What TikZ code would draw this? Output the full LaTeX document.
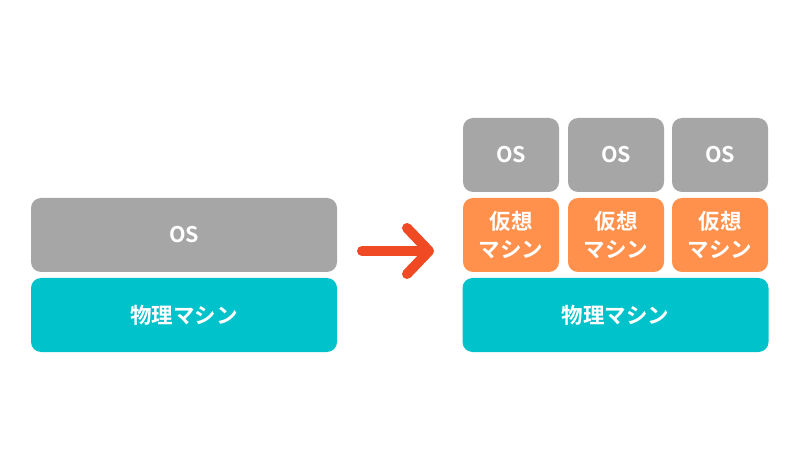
\documentclass[tikz,border=0pt]{standalone}
\usepackage{fontspec}
\setmainfont{Noto Sans CJK JP}[BoldFont={* Bold}]
\usetikzlibrary{arrows.meta}
\definecolor{osgray}{HTML}{A6A6A6}
\definecolor{hwteal}{HTML}{00C2CB}
\definecolor{vmorange}{HTML}{FF914D}
\definecolor{arrowred}{HTML}{EF4A23}
\tikzset{
  layer/.style={rounded corners=10pt, text=white, align=center,
    font=\fontsize{21.5}{28}\selectfont\bfseries, inner sep=0pt},
  wide/.style={layer, minimum width=306pt, minimum height=74pt},
  small/.style={layer, minimum width=96pt, minimum height=74pt},
}
\begin{document}
\begin{tikzpicture}[x=1pt,y=-1pt]
\useasboundingbox[fill=white] (0,0) rectangle (800,470);

% before
\node[wide, fill=osgray] (os) at (184,235) {OS};
\node[wide, fill=hwteal] (hw) at (184,315) {物理マシン};

% after
\node[wide, fill=hwteal] (hw2) at (615.5,315) {物理マシン};
\node[small, fill=vmorange] (vm1) at (511,235) {仮想\\マシン};
\node[small, fill=vmorange] (vm2) at (616,235) {仮想\\マシン};
\node[small, fill=vmorange] (vm3) at (720,235) {仮想\\マシン};
\node[small, fill=osgray] (os1) at (511,155) {OS};
\node[small, fill=osgray] (os2) at (616,155) {OS};
\node[small, fill=osgray] (os3) at (720,155) {OS};

% arrow
\coordinate (from) at (362,251);
\coordinate (to) at (434,251);
\draw[arrowred, line width=10pt, line cap=round,
  -{Straight Barb[length=22pt, width=46pt, round]}] (from) -- (to);
\end{tikzpicture}
\end{document}
